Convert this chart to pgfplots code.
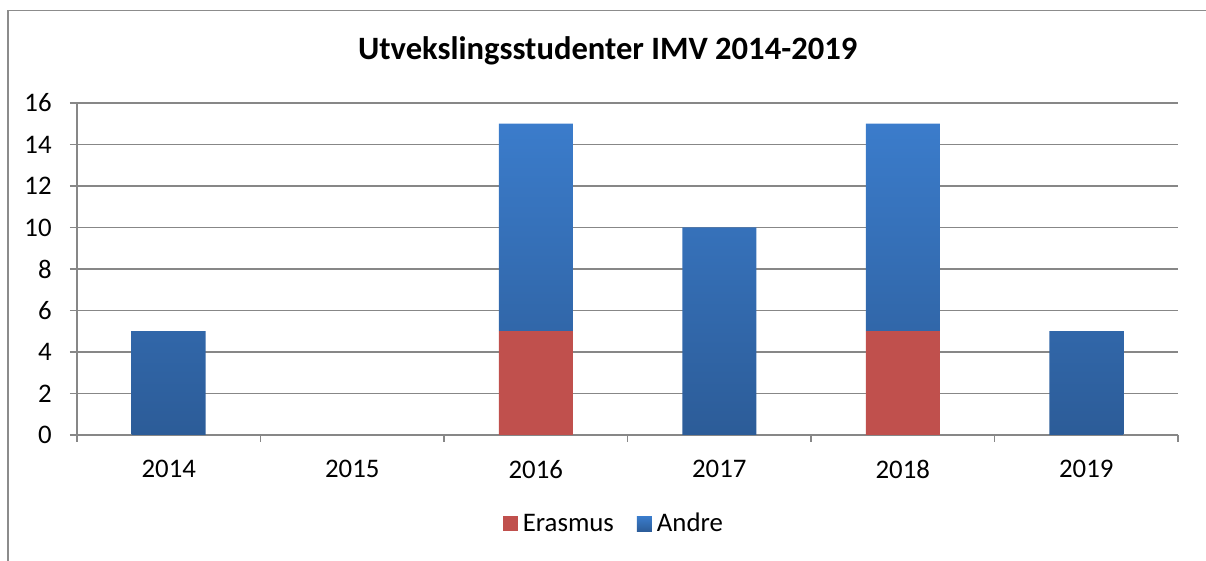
\documentclass[border=0pt]{standalone}
\usepackage{pgfplots}
\pgfplotsset{compat=1.18}
\usepackage{fontspec}
\setmainfont{Carlito}
\definecolor{erasmus}{HTML}{C0504D}
\definecolor{andretop}{HTML}{3B7CCB}
\definecolor{andrebot}{HTML}{2C5C98}
\definecolor{gridgray}{HTML}{878787}
\definecolor{framegray}{HTML}{8C8C8C}
\begin{document}
\begin{tikzpicture}
\path[use as bounding box] (0,0) rectangle (603pt,280.5pt);
\clip (0,0) rectangle (603pt,280.5pt);
\draw[framegray, line width=0.8pt] (4pt,-10pt) -- (4pt,275.15pt) -- (620pt,275.15pt);
\begin{axis}[
  at={(38.5pt,63pt)}, anchor=origin,
  scale only axis,
  width=550.5pt, height=166pt,
  ybar stacked, bar width=37pt,
  xmin=0, xmax=6, ymin=0, ymax=16,
  xtick={0.5,1.5,2.5,3.5,4.5,5.5},
  xticklabels={2014,2015,2016,2017,2018,2019},
  minor xtick={0,1,2,3,4,5,6},
  ytick={0,2,4,6,8,10,12,14,16},
  axis x line*=bottom, axis y line*=left,
  axis line style={gridgray, line width=0.75pt},
  ymajorgrids, major grid style={gridgray, line width=0.75pt},
  tick style={gridgray, line width=0.75pt},
  major x tick style={draw=none},
  tick align=outside,
  major tick length=3.5pt, minor tick length=3.5pt,
  /pgf/number format/assume math mode=true,
  ticklabel style={font=\fontsize{13.4}{16}\selectfont, text=black},
  yticklabel style={anchor=east, inner sep=0pt, xshift=-9pt},
  xticklabel style={anchor=north, inner sep=0pt, yshift=-9pt},
  title={\textbf{Utvekslingsstudenter IMV 2014-2019}},
  title style={at={(0.482,1.094)}, anchor=base, font=\fontsize{16.3}{19}\selectfont, inner sep=0pt},
  legend columns=2,
  legend style={at={(0.489,-0.268)}, anchor=center, draw=none, fill=none,
    font=\fontsize{13.4}{16}\selectfont,
    /tikz/every even column/.append style={column sep=9pt},
    /tikz/every odd column/.append style={column sep=0pt},
    nodes={inner xsep=2.5pt}},
  legend image code/.code={\path[#1] (0pt,-3.75pt) rectangle (7.5pt,3.75pt);},
]
\addplot[fill=erasmus, draw=none] coordinates {(0.5,0) (1.5,0) (2.5,5) (3.5,0) (4.5,5) (5.5,0)};
\addlegendentry{Erasmus}
\addplot[draw=none, top color=andretop, bottom color=andrebot] coordinates {(0.5,5) (1.5,0) (2.5,10) (3.5,10) (4.5,10) (5.5,5)};
\addlegendentry{Andre}
\end{axis}
\end{tikzpicture}
\end{document}
